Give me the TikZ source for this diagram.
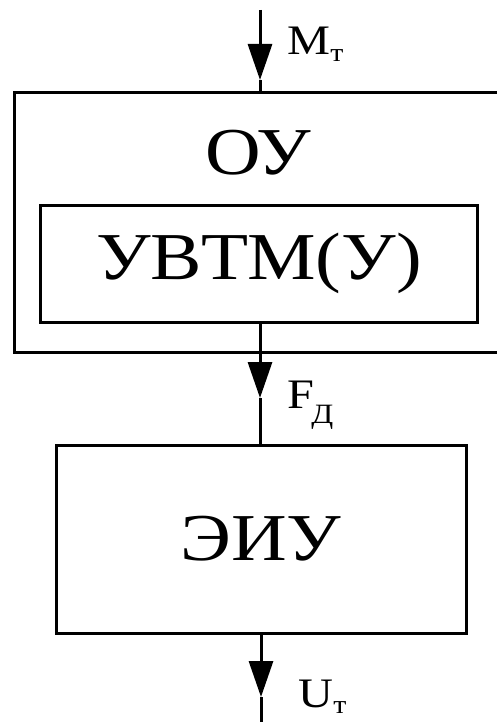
\documentclass[tikz,border=0pt]{standalone}
\usepackage{fontspec}
\setmainfont[FakeStretch=1.15]{Liberation Serif}
\usetikzlibrary{arrows.meta}

\begin{document}
\begin{tikzpicture}[x=1pt, y=-1pt, line width=3pt,
    blok/.style={draw, rectangle, inner sep=0pt},
    big/.style={font=\fontsize{67}{67}\selectfont},
    lbl/.style={anchor=base west, inner sep=0pt, font=\fontsize{42}{42}\selectfont},
    tip/.style={-{Triangle[length=36pt, width=24pt]}}]
  \useasboundingbox (0,0) rectangle (497,722);
  \clip (0,0) rectangle (497,722);

  % blocks
  \node[blok, minimum width=492pt, minimum height=259pt] (ou) at (260,222.5) {};
  \node[big] (oulbl) at (258,153) {ОУ};
  \node[blok, big, minimum width=437pt, minimum height=117pt] (uvtm) at (259,263.5) {УВТМ(У)};
  \node[blok, big, minimum width=410pt, minimum height=188pt] (eiu) at (261,539) {ЭИУ};

  % signals
  \coordinate (in) at (260,10);
  \coordinate (mt) at (260,80);
  \coordinate (fd) at (260,398);
  \coordinate (ut) at (261,697);
  \coordinate (out) at (261,722);

  \draw[tip] (in) -- (mt);
  \draw (mt) -- (mt |- ou.north);
  \draw[tip] (fd |- uvtm.south) -- (fd);
  \draw (fd) -- (fd |- eiu.north);
  \draw[tip] (ut |- eiu.south) -- (ut);
  \draw (ut) -- (out);

  \node[lbl] (mlbl) at (286,55) {M\raisebox{-7pt}{\fontsize{26}{26}\selectfont т}};
  \node[lbl] (flbl) at (286,408) {F\kern-3pt\raisebox{-15pt}{\fontsize{28}{28}\selectfont Д}};
  \node[lbl] (ulbl) at (297,707) {U\raisebox{-6pt}{\fontsize{26}{26}\selectfont т}};
\end{tikzpicture}
\end{document}
